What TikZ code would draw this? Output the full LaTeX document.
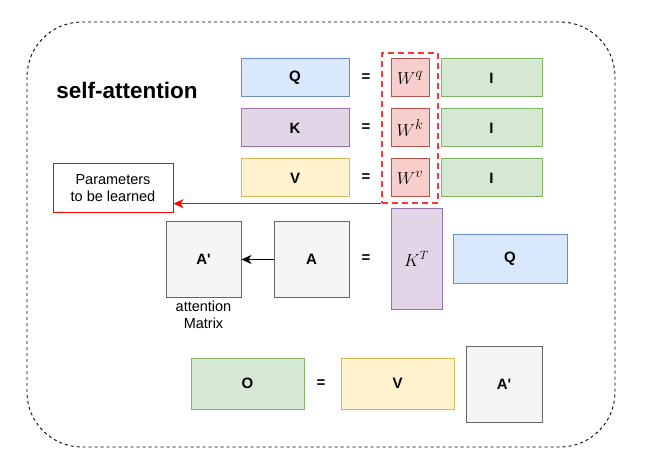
\documentclass[tikz,border=0pt]{standalone}
\usepackage{fontspec}
\setmainfont{Liberation Sans}
\usepackage{tikz}
\usepackage{xcolor}
\usetikzlibrary{arrows.meta}

\definecolor{bluefill}{HTML}{DAE8FC}
\definecolor{blueline}{HTML}{6C8EBF}
\definecolor{purplefill}{HTML}{E1D5E7}
\definecolor{purpleline}{HTML}{9673A6}
\definecolor{yellowfill}{HTML}{FFF2CC}
\definecolor{yellowline}{HTML}{D6B656}
\definecolor{greenfill}{HTML}{D5E8D4}
\definecolor{greenline}{HTML}{82B366}
\definecolor{redfill}{HTML}{F8CECC}
\definecolor{redline}{HTML}{B85450}
\definecolor{grayfill}{HTML}{F5F5F5}
\definecolor{grayline}{HTML}{666666}
\definecolor{dashred}{HTML}{FF3333}

\begin{document}
\begin{tikzpicture}[x=1pt, y=-1pt, >={Stealth[length=10pt,width=9pt,inset=3pt]}, line width=1pt,
    mat/.style={draw, inner sep=0pt, font=\fontsize{15}{16}\selectfont\bfseries},
    qmat/.style={mat, fill=bluefill, draw=blueline},
    kmat/.style={mat, fill=purplefill, draw=purpleline},
    vmat/.style={mat, fill=yellowfill, draw=yellowline},
    imat/.style={mat, fill=greenfill, draw=greenline, minimum width=101pt, minimum height=38pt},
    wmat/.style={mat, fill=redfill, draw=redline, minimum width=38pt, minimum height=38pt, font=\fontsize{19}{20}\selectfont},
    amat/.style={mat, fill=grayfill, draw=grayline, minimum width=75pt, minimum height=75pt},
    row/.style={minimum width=108pt, minimum height=38pt},
    eq/.style={font=\fontsize{15}{16}\selectfont\bfseries},
    note/.style={align=center, font=\fontsize{14.5}{17}\selectfont}]

        \useasboundingbox (0,0) rectangle (647,470);
        \draw[dashed, line width=0.9pt, rounded corners=55pt] (27,22) rectangle (615,447);

        \node[font=\fontsize{22.5}{26}\selectfont\bfseries] at (127,90) (title) {self-attention};

        \node[qmat, row] at (295,78) (q) {Q};
        \node[kmat, row] at (295,128) (k) {K};
        \node[vmat, row] at (295,178) (v) {V};

        \node[eq] at (366,78) (eqq) {=};
        \node[eq] at (366,128) (eqk) {=};
        \node[eq] at (366,178) (eqv) {=};

        \node[wmat] at (410,78) (wq) {$W^q$};
        \node[wmat] at (410,128) (wk) {$W^k$};
        \node[wmat] at (410,178) (wv) {$W^v$};

        \node[imat] at (491.5,78) (iq) {I};
        \node[imat] at (491.5,128) (ik) {I};
        \node[imat] at (491.5,178) (iv) {I};

        \node[draw=dashred, line width=1.3pt, dash pattern=on 6pt off 4pt, minimum width=56pt, minimum height=150pt] at (410,128) (wgroup) {};

        \node[note, draw=red, fill=white, minimum width=120pt, minimum height=49pt, inner sep=0pt] at (113,188.5) (params) {Parameters\\to be learned};
        \draw[->, red] (wgroup.south west) -- (params.east |- wgroup.south west);

        \node[amat] at (203.5,259.5) (aprime) {A\textquotesingle};
        \node[amat] at (311.5,259.5) (a) {A};
        \node[note] at (203.5,314.5) (attlabel) {attention\\Matrix};
        \node[eq] at (366,259) (eqa) {=};
        \node[kmat, minimum width=51pt, minimum height=100pt, font=\fontsize{18}{19}\selectfont] at (416.5,259) (kt) {$K^T$};
        \node[qmat, minimum width=114pt, minimum height=49pt] at (510,258.5) (q2) {Q};

        \draw[->] (a) -- (aprime);

        \node[mat, fill=greenfill, draw=greenline, minimum width=113pt, minimum height=51pt] at (247.5,383.5) (o) {O};
        \node[eq] at (321,384) (eqo) {=};
        \node[vmat, minimum width=113pt, minimum height=51pt] at (397.5,383.5) (v2) {V};
        \node[amat, minimum width=76pt, minimum height=76pt] at (504,384) (aprime2) {A\textquotesingle};

    \end{tikzpicture}
\end{document}
